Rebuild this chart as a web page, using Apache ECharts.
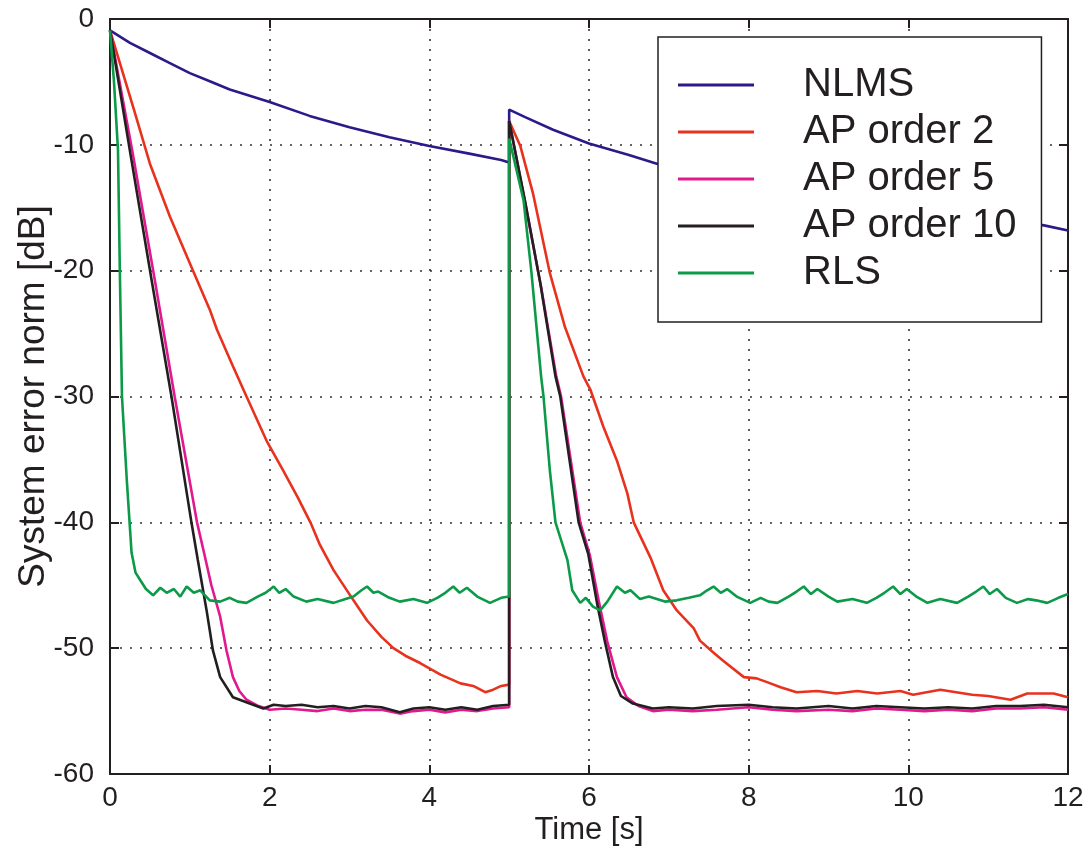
<!DOCTYPE html>
<html>
<head>
<meta charset="utf-8">
<script src="https://cdn.jsdelivr.net/npm/echarts@6/dist/echarts.min.js"></script>
<style>
html,body{margin:0;padding:0;background:#fff;}
#chart{width:1086px;height:849px;}
</style>
</head>
<body>
<div id="chart"></div>
<script>
// Tick values
const xTicks = [0, 2, 4, 6, 8, 10, 12];
const yTicks = [-60, -50, -40, -30, -20, -10, 0];

const seriesNames = ['NLMS', 'AP order 2', 'AP order 5', 'AP order 10', 'RLS'];

// [time s, dB]
const nlms = [[0,-0.9],[0.25,-1.9],[0.5,-2.7],[0.75,-3.5],[1,-4.3],[1.25,-4.95],[1.5,-5.6],[1.75,-6.1],[2,-6.6],[2.5,-7.7],[3,-8.6],[3.5,-9.4],[4,-10.1],[4.5,-10.7],[4.9,-11.2],[5,-11.4],[5,-7.2],[5.2,-7.8],[5.55,-8.8],[6,-9.9],[6.5,-10.8],[6.85,-11.5],[7,-11.7],[8,-12.7],[9,-13.7],[10,-14.7],[11,-15.7],[11.7,-16.4],[12,-16.8]];

const ap2 = [[0,-0.9],[0.3,-7.2],[0.5,-11.5],[0.75,-15.7],[1.04,-20],[1.25,-23.1],[1.34,-24.7],[1.54,-27.6],[1.71,-30],[1.96,-33.5],[2.17,-35.9],[2.35,-38],[2.51,-40],[2.63,-41.8],[2.8,-43.8],[3.05,-46.2],[3.22,-47.8],[3.4,-49.1],[3.55,-50],[3.7,-50.6],[3.89,-51.2],[4.14,-52.1],[4.39,-52.8],[4.55,-53.0],[4.7,-53.5],[4.8,-53.3],[4.9,-53.0],[5,-52.9],[5,-8.1],[5.14,-10.1],[5.3,-13.9],[5.51,-20.2],[5.7,-24.5],[5.93,-28.4],[6.02,-29.5],[6.18,-32.4],[6.35,-35.1],[6.48,-37.7],[6.56,-40],[6.77,-42.8],[6.93,-45.4],[7.1,-47],[7.31,-48.4],[7.39,-49.4],[7.55,-50.3],[7.68,-51],[7.94,-52.3],[8.1,-52.4],[8.23,-52.7],[8.4,-53.1],[8.6,-53.5],[8.86,-53.4],[9.1,-53.6],[9.36,-53.4],[9.61,-53.6],[9.9,-53.4],[10.06,-53.7],[10.4,-53.3],[10.8,-53.7],[11.0,-53.8],[11.28,-54.1],[11.49,-53.6],[11.82,-53.6],[12,-53.9]];

const ap5 = [[0,-0.9],[0.28,-10.5],[0.56,-20.7],[0.81,-30],[1.09,-40],[1.17,-42.2],[1.27,-45],[1.38,-47.5],[1.46,-50.2],[1.54,-52.3],[1.62,-53.4],[1.71,-54.1],[1.86,-54.6],[2.0,-54.9],[2.2,-54.8],[2.4,-54.9],[2.6,-55.0],[2.8,-54.8],[3.0,-55.0],[3.2,-54.9],[3.4,-54.9],[3.63,-55.2],[3.8,-55.0],[4.0,-54.9],[4.2,-55.1],[4.4,-54.9],[4.6,-55.0],[4.8,-54.8],[5,-54.7],[5,-8.1],[5.2,-14.6],[5.4,-21.3],[5.59,-28.4],[5.65,-30],[5.89,-40],[6.01,-42.6],[6.13,-46.5],[6.23,-49.5],[6.35,-52.3],[6.47,-53.9],[6.62,-54.6],[6.8,-55.0],[7.0,-54.9],[7.3,-55.0],[7.6,-54.9],[8.0,-54.7],[8.3,-54.9],[8.6,-55.0],[9.0,-54.9],[9.3,-55.0],[9.6,-54.8],[9.9,-54.9],[10.2,-55.0],[10.5,-54.9],[10.8,-55.0],[11.1,-54.8],[11.4,-54.8],[11.7,-54.7],[12,-54.9]];

const ap10 = [[0,-0.9],[0.25,-10.5],[0.52,-20.7],[0.77,-30],[1.02,-40],[1.1,-43],[1.21,-47],[1.29,-50.2],[1.38,-52.3],[1.54,-53.9],[1.75,-54.4],[1.92,-54.8],[2.05,-54.5],[2.2,-54.6],[2.4,-54.5],[2.6,-54.7],[2.8,-54.6],[3.0,-54.8],[3.2,-54.6],[3.4,-54.7],[3.63,-55.1],[3.8,-54.8],[4.0,-54.7],[4.2,-54.9],[4.4,-54.7],[4.6,-54.9],[4.8,-54.6],[5,-54.5],[5,-8.1],[5.2,-14.5],[5.39,-21],[5.58,-28.4],[5.64,-30],[5.87,-40],[5.99,-42.5],[6.1,-46.4],[6.2,-49.5],[6.3,-52.3],[6.4,-53.8],[6.55,-54.4],[6.8,-54.8],[7.0,-54.7],[7.3,-54.8],[7.6,-54.6],[8.0,-54.5],[8.3,-54.7],[8.6,-54.8],[9.0,-54.6],[9.3,-54.8],[9.6,-54.6],[9.9,-54.7],[10.2,-54.8],[10.5,-54.7],[10.8,-54.8],[11.1,-54.6],[11.4,-54.6],[11.7,-54.5],[12,-54.7]];

const rls = [[0,-0.9],[0.05,-5],[0.1,-10.4],[0.125,-20.7],[0.15,-30],[0.21,-36.6],[0.27,-42.4],[0.32,-44],[0.38,-44.6],[0.45,-45.3],[0.54,-45.8],[0.63,-45.2],[0.71,-45.6],[0.8,-45.3],[0.88,-45.9],[0.96,-45.1],[1.05,-45.6],[1.13,-45.4],[1.25,-46.2],[1.38,-46.3],[1.5,-46.0],[1.6,-46.3],[1.71,-46.4],[1.85,-45.9],[1.95,-45.6],[2.05,-45.1],[2.12,-45.6],[2.2,-45.3],[2.3,-45.9],[2.46,-46.3],[2.6,-46.1],[2.8,-46.4],[2.95,-46.1],[3.05,-45.9],[3.15,-45.4],[3.22,-45.1],[3.3,-45.6],[3.36,-45.5],[3.5,-46.0],[3.63,-46.3],[3.8,-46.1],[3.97,-46.4],[4.1,-46.0],[4.2,-45.6],[4.3,-45.1],[4.38,-45.6],[4.47,-45.2],[4.6,-45.9],[4.76,-46.4],[4.9,-46.0],[5,-45.9],[5,-9.5],[5.18,-14.4],[5.28,-20.2],[5.4,-28.4],[5.43,-30],[5.51,-35.9],[5.58,-40],[5.73,-43],[5.79,-45.4],[5.89,-46.4],[5.96,-46],[6.05,-46.7],[6.14,-47],[6.23,-46.3],[6.35,-45.1],[6.45,-45.6],[6.52,-45.4],[6.64,-46.1],[6.75,-45.9],[6.85,-46.1],[6.95,-46.3],[7.1,-46.2],[7.25,-46.0],[7.39,-45.8],[7.48,-45.4],[7.56,-45.1],[7.65,-45.6],[7.73,-45.3],[7.85,-45.9],[8.02,-46.4],[8.15,-46.0],[8.25,-46.3],[8.36,-46.4],[8.5,-45.9],[8.6,-45.5],[8.69,-45.1],[8.78,-45.7],[8.86,-45.3],[9.0,-45.9],[9.11,-46.3],[9.3,-46.1],[9.48,-46.4],[9.6,-46.0],[9.7,-45.6],[9.81,-45.1],[9.9,-45.7],[9.98,-45.3],[10.1,-45.9],[10.24,-46.4],[10.4,-46.1],[10.61,-46.4],[10.75,-45.9],[10.85,-45.5],[10.94,-45.1],[11.02,-45.7],[11.11,-45.3],[11.22,-46.0],[11.36,-46.4],[11.5,-46.1],[11.6,-46.2],[11.74,-46.4],[11.88,-46.0],[12,-45.7]];

const seriesData = [nlms, ap2, ap5, ap10, rls];
const colors = ['#2b1a8a', '#e8321e', '#e2198e', '#231f20', '#0b9a48'];

const FONT = '"Liberation Sans", Arial, Helvetica, sans-serif';
const chart = echarts.init(document.getElementById('chart'), null, {renderer: 'canvas'});

const axisCommon = {min: 0, max: 12, interval: 2};
const yCommon = {min: -60, max: 0, interval: 10};
const axisLine = {show: true, onZero: false, lineStyle: {color: '#231f20', width: 2}};
const axisTick = {show: true, inside: true, length: 9, lineStyle: {color: '#231f20', width: 2}};

const option = {
  backgroundColor: '#ffffff',
  animation: false,
  grid: {left: 110, top: 19, right: 18, bottom: 75, containLabel: false, outerBoundsMode: 'none'},
  legend: {
    data: seriesNames,
    orient: 'vertical',
    left: 658, top: 37,
    padding: [28, 25, 29, 20],
    icon: 'rect',
    itemWidth: 76, itemHeight: 3, itemGap: 7,
    backgroundColor: '#ffffff',
    borderColor: '#231f20', borderWidth: 1.5,
    textStyle: {fontFamily: FONT, fontSize: 40, color: '#231f20', lineHeight: 40, padding: [0, 0, 0, 44]},
    selectedMode: false
  },
  xAxis: [
    Object.assign({type: 'value', position: 'bottom',
      name: 'Time [s]', nameLocation: 'middle', nameGap: 41, nameMoveOverlap: false,
      nameTextStyle: {fontFamily: FONT, fontSize: 31, color: '#231f20'},
      axisLine: axisLine, axisTick: axisTick,
      axisLabel: {fontFamily: FONT, fontSize: 28, color: '#231f20', margin: 10,
        formatter: v => xTicks.includes(v) ? String(v) : ''},
      splitLine: {show: true, lineStyle: {color: '#333', width: 1.6, type: [2, 8]}}
    }, axisCommon),
    Object.assign({type: 'value', position: 'top',
      axisLine: axisLine, axisTick: axisTick,
      axisLabel: {show: false}, splitLine: {show: false}
    }, axisCommon)
  ],
  yAxis: [
    Object.assign({type: 'value', position: 'left',
      name: 'System error norm [dB]', nameLocation: 'middle', nameGap: 58, nameRotate: 90, nameMoveOverlap: false,
      nameTextStyle: {fontFamily: FONT, fontSize: 37, color: '#231f20'},
      axisLine: axisLine, axisTick: axisTick,
      axisLabel: {fontFamily: FONT, fontSize: 28, color: '#231f20', margin: 16,
        formatter: v => yTicks.includes(v) ? String(v) : ''},
      splitLine: {show: true, lineStyle: {color: '#333', width: 1.6, type: [2, 8]}}
    }, yCommon),
    Object.assign({type: 'value', position: 'right',
      axisLine: axisLine, axisTick: axisTick,
      axisLabel: {show: false}, splitLine: {show: false}
    }, yCommon)
  ],
  series: seriesNames.map((name, i) => ({
    name: name,
    type: 'line',
    xAxisIndex: 0, yAxisIndex: 0,
    data: seriesData[i],
    symbol: 'none',
    showSymbol: false,
    smooth: false,
    lineStyle: {color: colors[i], width: 2.6},
    itemStyle: {color: colors[i]},
    z: 2 + i
  }))
};
chart.setOption(option);
</script>
</body>
</html>
